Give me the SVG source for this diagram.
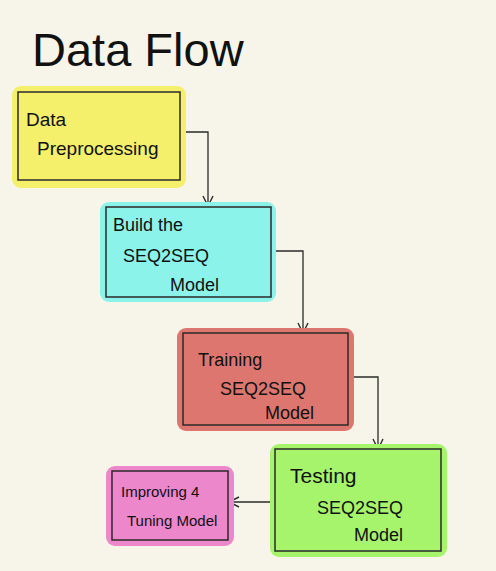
<svg xmlns="http://www.w3.org/2000/svg" width="496" height="571" viewBox="0 0 496 571">
<style>
.bg{fill:#f7f5e9}
.glow{stroke:none}
.box{stroke:#2a2a2a;stroke-width:1.5}
.t{font-family:"Liberation Sans",Arial,sans-serif;font-size:18px;fill:#111}
.title{font-family:"Liberation Sans",Arial,sans-serif;font-size:47px;fill:#111}
.edge{fill:none;stroke:#2a2a2a;stroke-width:1.3}
</style>
<defs>
<marker id="arr" viewBox="0 0 12 12" refX="11" refY="6" markerWidth="12" markerHeight="12" markerUnits="userSpaceOnUse" orient="auto">
<path d="M1,1 L11,6 L1,11" fill="none" stroke="#2a2a2a" stroke-width="1.4"/>
</marker>
</defs>
<rect class="bg" x="0" y="0" width="496" height="571"/>
<text class="title" x="32" y="66">Data Flow</text>

<g id="edges">
<path class="edge" d="M180,132 H208 V206" marker-end="url(#arr)"/>
<path class="edge" d="M271,251 H303 V333" marker-end="url(#arr)"/>
<path class="edge" d="M348,377 H378 V449" marker-end="url(#arr)"/>
<path class="edge" d="M275,502 H229" marker-end="url(#arr)"/>
</g>

<g id="n1">
<rect class="glow" x="12" y="86" width="174" height="102" rx="9" fill="#f4f06c"/>
<rect class="box" x="18" y="92" width="162" height="88" fill="#f4f06c"/>
<text class="t" x="26" y="126" style="font-size:19px">Data</text>
<text class="t" x="37" y="155" style="font-size:19px">Preprocessing</text>
</g>

<g id="n2">
<rect class="glow" x="100" y="202" width="176" height="100" rx="9" fill="#8cf3ea"/>
<rect class="box" x="106" y="207" width="165" height="90" fill="#8cf3ea"/>
<text class="t" x="113" y="231">Build the</text>
<text class="t" x="123" y="262">SEQ2SEQ</text>
<text class="t" x="170" y="291">Model</text>
</g>

<g id="n3">
<rect class="glow" x="177" y="328" width="177" height="103" rx="9" fill="#de7670"/>
<rect class="box" x="183" y="333" width="165" height="92" fill="#de7670"/>
<text class="t" x="198" y="366">Training</text>
<text class="t" x="220" y="395">SEQ2SEQ</text>
<text class="t" x="265" y="419">Model</text>
</g>

<g id="n4">
<rect class="glow" x="270" y="444" width="177" height="113" rx="9" fill="#a5f46c"/>
<rect class="box" x="275" y="449" width="166" height="102" fill="#a5f46c"/>
<text class="t" x="290" y="483" style="font-size:21px">Testing</text>
<text class="t" x="317" y="514">SEQ2SEQ</text>
<text class="t" x="354" y="541">Model</text>
</g>

<g id="n5">
<rect class="glow" x="106" y="466" width="128" height="80" rx="9" fill="#ec87cb"/>
<rect class="box" x="112" y="471" width="116" height="69" fill="#ec87cb"/>
<text class="t" x="121" y="497" style="font-size:15px">Improving 4</text>
<text class="t" x="127" y="526" style="font-size:15px">Tuning Model</text>
</g>
</svg>
